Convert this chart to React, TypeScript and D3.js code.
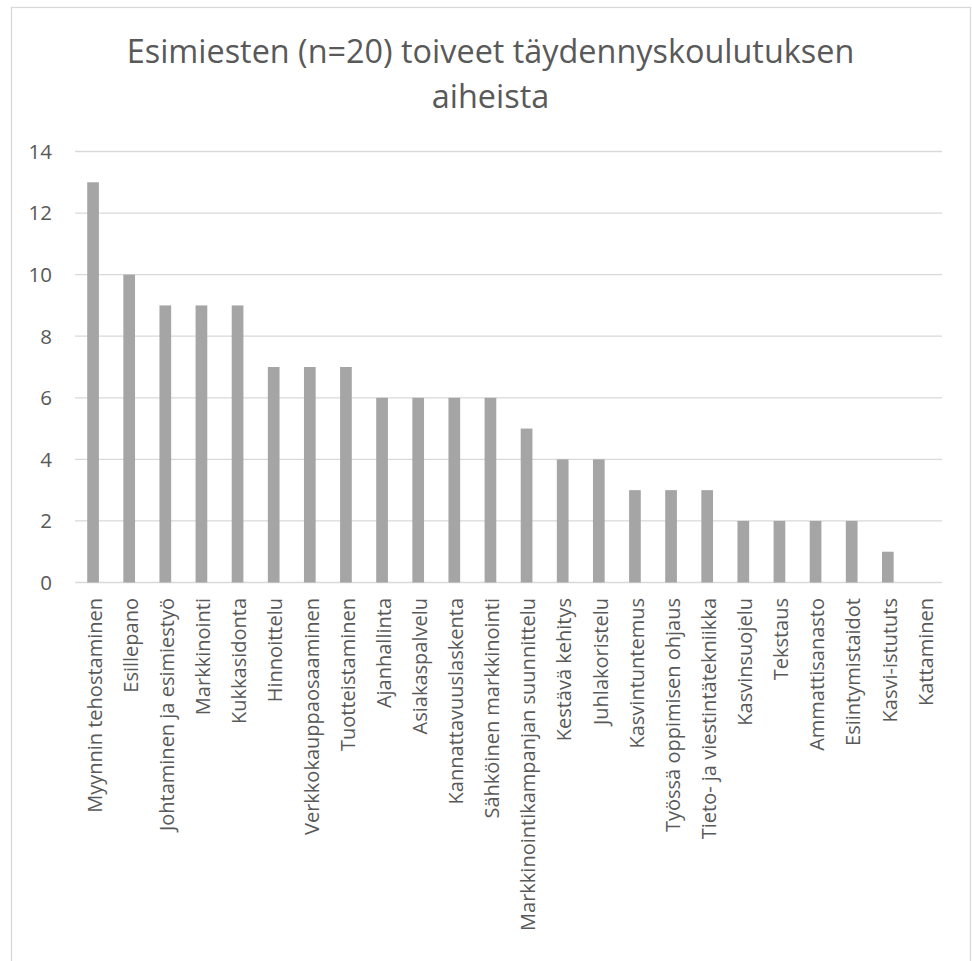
import React from "react";
import * as d3 from "d3";

const categories: string[] = [
  "Myynnin tehostaminen",
  "Esillepano",
  "Johtaminen ja esimiestyö",
  "Markkinointi",
  "Kukkasidonta",
  "Hinnoittelu",
  "Verkkokauppaosaaminen",
  "Tuotteistaminen",
  "Ajanhallinta",
  "Asiakaspalvelu",
  "Kannattavuuslaskenta",
  "Sähköinen markkinointi",
  "Markkinointikampanjan suunnittelu",
  "Kestävä kehitys",
  "Juhlakoristelu",
  "Kasvintuntemus",
  "Työssä oppimisen ohjaus",
  "Tieto- ja viestintätekniikka",
  "Kasvinsuojelu",
  "Tekstaus",
  "Ammattisanasto",
  "Esiintymistaidot",
  "Kasvi-istututs",
  "Kattaminen",
];

const counts: number[] = [13, 10, 9, 9, 9, 7, 7, 7, 6, 6, 6, 6, 5, 4, 4, 3, 3, 3, 2, 2, 2, 2, 1, 0];

const yTicks: number[] = [0, 2, 4, 6, 8, 10, 12, 14];

const titleLines: string[] = ["Esimiesten (n=20) toiveet täydennyskoulutuksen", "aiheista"];

const W = 972;
const H = 961;
const FONT = "'Open Sans', 'DejaVu Sans', sans-serif";
const TEXT = "#595959";
const GRID = "#d9d9d9";
const BAR = "#a5a5a5";

export default function App() {
  const plotLeft = 75;
  const plotRight = 942;
  const plotTop = 151.5;
  const plotBottom = 582.5;

  const x = d3
    .scaleBand<string>()
    .domain(categories)
    .range([plotLeft, plotRight])
    .paddingInner(0.676)
    .paddingOuter(0.338);

  const y = d3.scaleLinear().domain([0, 14]).range([plotBottom, plotTop]);

  return (
    <svg
      width={W}
      height={H}
      style={{ position: "absolute", left: 0, top: 0, background: "#fff" }}
      fontFamily={FONT}
    >
      <rect x={0} y={0} width={W} height={H} fill="#fff" />
      <rect x={11.5} y={7.5} width={959} height={970} fill="#fff" stroke={GRID} strokeWidth={1.3} />

      {titleLines.map((t, i) => (
        <text
          key={t}
          x={490.5}
          y={63 + i * 45}
          textAnchor="middle"
          fontSize={32.4}
          fill={TEXT}
        >
          {t}
        </text>
      ))}

      {yTicks.map((v) => (
        <g key={v}>
          <line
            x1={plotLeft}
            x2={plotRight}
            y1={y(v)}
            y2={y(v)}
            stroke={GRID}
            strokeWidth={1.3}
          />
          <text
            x={52}
            y={y(v)}
            dy="0.36em"
            textAnchor="end"
            fontSize={20.5}
            fill={TEXT}
          >
            {v}
          </text>
        </g>
      ))}

      {categories.map((c, i) => (
        <rect
          key={c}
          x={x(c)}
          y={y(counts[i])}
          width={x.bandwidth()}
          height={y(0) - y(counts[i])}
          fill={BAR}
        />
      ))}

      {categories.map((c) => {
        const cx = (x(c) ?? 0) + x.bandwidth() / 2 + 1.5;
        const ty = 598;
        return (
          <text
            key={c}
            transform={`translate(${cx},${ty}) rotate(-90)`}
            dy="0.36em"
            textAnchor="end"
            fontSize={20}
            fill={TEXT}
          >
            {c}
          </text>
        );
      })}
    </svg>
  );
}
